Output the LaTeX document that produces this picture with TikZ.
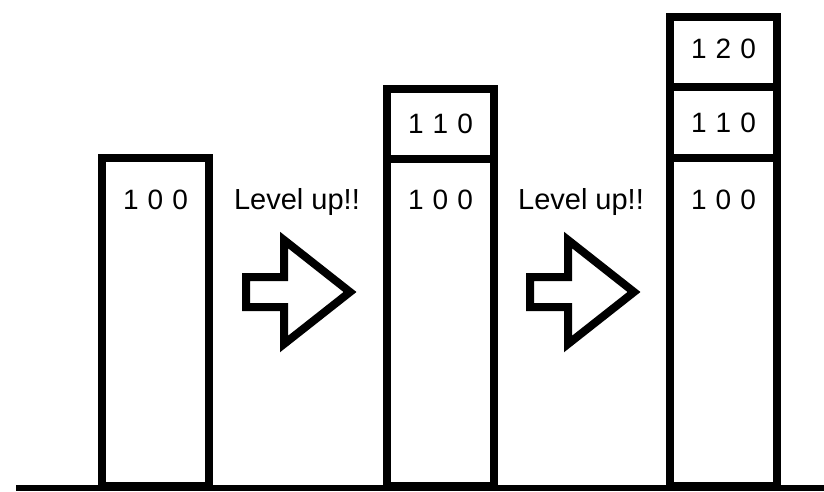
\documentclass[tikz,border=0pt]{standalone}
\usepackage{fontspec}
\setmainfont{Liberation Sans}
\usepackage{tikz}
\usetikzlibrary{positioning}

\tikzset{
  bar/.style={line width=8pt, line join=miter},
  lvl/.style={anchor=base, inner sep=0pt, font=\fontsize{29}{31}\selectfont},
  num/.style={anchor=base, inner sep=0pt, font=\fontsize{28}{30}\selectfont}
}
\newcommand{\gap}{\hspace{9pt}}

\begin{document}
\begin{tikzpicture}[x=1pt,y=-1pt]
\useasboundingbox (0,0) rectangle (824,491);
% bars
\draw[bar] (102,157.5) rectangle (209,486);
\draw[bar] (387,89) rectangle (494,486);
\draw[bar] (387,159) -- (494,159);
\draw[bar] (670,17) rectangle (777,486);
\draw[bar] (670,87) -- (777,87);
\draw[bar] (670,158) -- (777,158);
% values
\node[num] (a1) at (155.5,209.5) {1\gap0\gap0};
\node[num] (b1) at (440.5,209.5) {1\gap0\gap0};
\node[num] (b2) at (440.5,133) {1\gap1\gap0};
\node[num] (c1) at (723.5,209.5) {1\gap0\gap0};
\node[num] (c2) at (723.5,132) {1\gap1\gap0};
\node[num] (c3) at (723.5,58) {1\gap2\gap0};
% arrows
\node[lvl] (up1) at (297,209.5) {Level up!!};
\node[lvl] (up2) at (581,209.5) {Level up!!};
\foreach \dx in {0,284}
  \draw[bar] (246+\dx,277) -- (284+\dx,277) -- (284+\dx,240) -- (350+\dx,292)
    -- (284+\dx,344) -- (284+\dx,307) -- (246+\dx,307) -- cycle;
% ground
\draw[line width=6pt] (16,488) -- (824,488);
\end{tikzpicture}
\end{document}
